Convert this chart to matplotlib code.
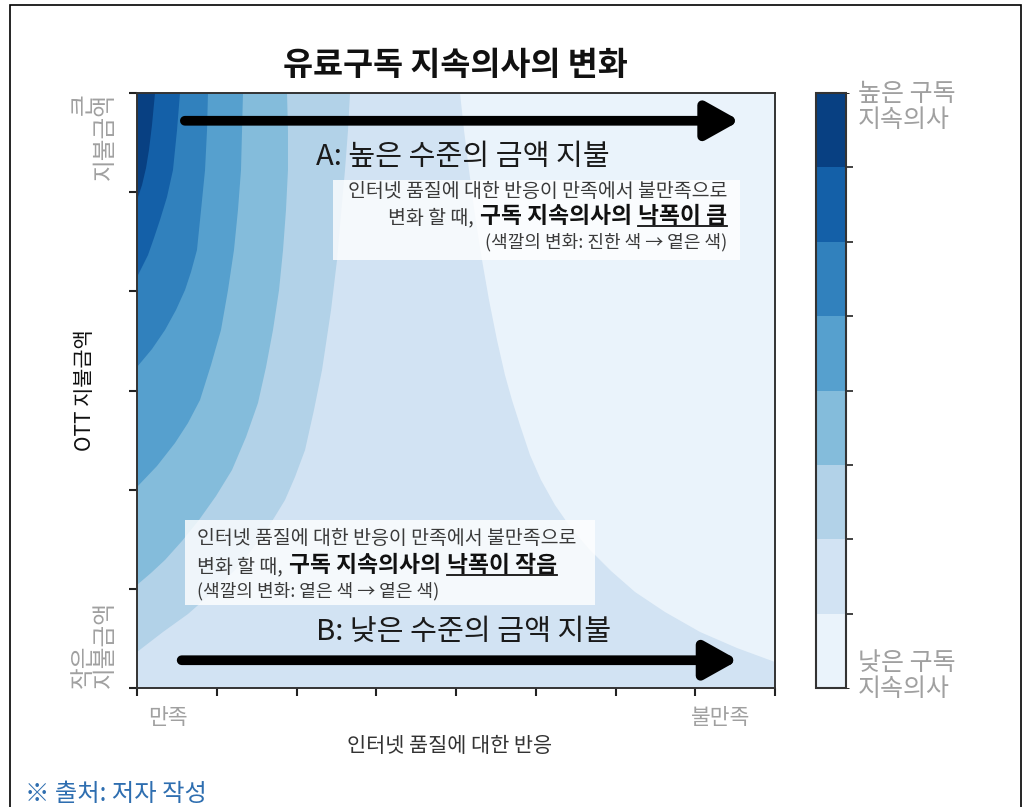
import numpy as np
import matplotlib
matplotlib.use('Agg')
from matplotlib import pyplot as plt
from matplotlib import cm
from matplotlib.colors import ListedColormap, BoundaryNorm
from matplotlib.patches import Rectangle
from matplotlib.lines import Line2D

plt.rcParams['font.family'] = ['Noto Sans CJK KR', 'DejaVu Sans']

# fronteiras entre os níveis, lidas da figura
# eixo x: 0 = 만족 ... 8 = 불만족 ; eixo y: 0 = 작은 지불금액 ... 6 = 큰 지불금액
b1_x = [4.050, 4.100, 4.163, 4.238, 4.326, 4.414, 4.514, 4.614, 4.702, 4.802, 4.928,
        5.066, 5.241, 5.442, 5.680, 5.944, 6.245, 6.621, 7.060, 7.524, 8.0]
b1_y = [6.0, 5.627, 5.223, 4.770, 4.316, 3.912, 3.509, 3.156, 2.904, 2.652, 2.349,
        2.097, 1.845, 1.613, 1.392, 1.180, 0.968, 0.766, 0.565, 0.403, 0.262]
b2_x = [2.671, 2.646, 2.608, 2.558, 2.508, 2.433, 2.320, 2.219, 2.107, 1.981,
        1.856, 1.718, 1.580, 1.292, 0.953, 0.639, 0.326, 0.163, 0.0]
b2_y = [6.0, 5.627, 5.223, 4.770, 4.316, 3.812, 3.207, 2.803, 2.400, 2.128,
        1.896, 1.714, 1.543, 1.240, 0.968, 0.746, 0.565, 0.464, 0.363]
b3_x = [1.881, 1.893, 1.893, 1.868, 1.831, 1.781, 1.705, 1.618, 1.517, 1.367,
        1.191, 0.991, 0.777, 0.564, 0.351, 0.176, 0.0]
b3_y = [6.0, 5.627, 5.223, 4.820, 4.417, 4.013, 3.610, 3.237, 2.874, 2.531,
        2.198, 1.936, 1.694, 1.482, 1.291, 1.160, 1.039]
b4_x = [1.329, 1.317, 1.304, 1.266, 1.216, 1.141, 1.053, 0.928, 0.790, 0.639,
        0.476, 0.251, 0.0]
b4_y = [6.0, 5.627, 5.223, 4.820, 4.417, 4.013, 3.610, 3.257, 2.904, 2.672,
        2.470, 2.239, 2.027]
b5_x = [0.890, 0.878, 0.853, 0.803, 0.752, 0.677, 0.602, 0.489, 0.351, 0.188, 0.0]
b5_y = [6.0, 5.627, 5.223, 4.820, 4.417, 4.195, 4.013, 3.812, 3.610, 3.418, 3.237]
b6_x = [0.539, 0.502, 0.451, 0.376, 0.288, 0.213, 0.138, 0.063, 0.0]
b6_y = [6.0, 5.627, 5.223, 4.951, 4.719, 4.538, 4.366, 4.245, 4.144]
b7_x = [0.226, 0.188, 0.150, 0.113, 0.063, 0.0]
b7_y = [6.0, 5.677, 5.425, 5.243, 5.072, 4.921]

fronteiras = [(b1_x, b1_y), (b2_x, b2_y), (b3_x, b3_y), (b4_x, b4_y),
              (b5_x, b5_y), (b6_x, b6_y), (b7_x, b7_y)]

n_niveis = 8
cores = plt.cm.Blues((np.arange(n_niveis) + 0.5) / n_niveis)

fig = plt.figure(figsize=(10.24, 8.07), dpi=100)
ax = fig.add_axes([137/1024, 1 - 688/807, 638/1024, 595/807])
ax.set_xlim(0, 8)
ax.set_ylim(0, 6)
ax.set_facecolor(cores[0])

for k, (bx, by) in enumerate(fronteiras, start=1):
    if k == 1:
        px, py = bx + [8, 0, 0], by + [0, 0, 6]
    else:
        px, py = bx + [0], by + [6]
    ax.fill(px, py, color=cores[k], lw=0, zorder=1)

ax.set_xticks(range(9))
ax.set_yticks(range(7))
ax.tick_params(labelbottom=False, labelleft=False, length=6, width=1.5,
               color='#222222', direction='out')
for sp in ax.spines.values():
    sp.set_linewidth(1.4)
    sp.set_color('#333333')
    sp.set_zorder(5)

# setas A e B
for (x0, x1, y) in [(0.60, 7.56, 5.72), (0.56, 7.54, 0.28)]:
    ax.annotate('', xy=(x1, y), xytext=(x0, y),
                arrowprops=dict(arrowstyle='-|>,head_length=0.5,head_width=0.28',
                                mutation_scale=40, lw=7, color='black',
                                shrinkA=0, shrinkB=0), zorder=4)

ax.text(4.08, 5.35, 'A: 높은 수준의 금액 지불', ha='center', va='center',
        fontsize=21, color='#1a1a1a', zorder=4)
ax.text(4.09, 0.565, 'B: 낮은 수준의 금액 지불', ha='center', va='center',
        fontsize=21, color='#1a1a1a', zorder=4)

# caixas brancas atrás dos comentários
ax.add_patch(Rectangle((2.46, 4.32), 5.10, 0.80, fc='white', ec='none', alpha=0.8, zorder=3))
ax.add_patch(Rectangle((0.60, 0.84), 5.14, 0.85, fc='white', ec='none', alpha=0.8, zorder=3))

renderer = fig.canvas.get_renderer()


def linha(x, y, partes, ha='left'):
    '''escreve uma linha com pedaços de estilos diferentes, alinhada na base'''
    inv = ax.transData.inverted()
    ordem = partes if ha == 'left' else partes[::-1]
    xd, yd = ax.transData.transform((x, y))
    for texto, tam, peso, cor, sub in ordem:
        xx = inv.transform((xd, yd))[0]
        t = ax.text(xx, y, texto, ha=ha, va='baseline', fontsize=tam,
                    fontweight=peso, color=cor, zorder=4)
        bb = t.get_window_extent(renderer)
        if sub:
            f = fig.transFigure.inverted()
            p0 = f.transform((bb.x0, yd - 3))
            p1 = f.transform((bb.x1, yd - 3))
            fig.add_artist(Line2D([p0[0], p1[0]], [p0[1], p1[1]], lw=1.3,
                                  color='#111111', zorder=6))
        if ha == 'left':
            xd = bb.x1 + 6
        else:
            xd = bb.x0 - 6


cinza = '#3a3a3a'
preto = '#111111'
linha(7.40, 4.95, [('인터넷 품질에 대한 반응이 만족에서 불만족으로', 14, 'normal', cinza, False)], ha='right')
linha(7.40, 4.69, [('변화 할 때,', 14, 'normal', cinza, False),
                   ('구독 지속의사의', 16.4, 'bold', preto, False),
                   ('낙폭이 큼', 16.4, 'bold', preto, True)], ha='right')
linha(7.40, 4.44, [('(색깔의 변화: 진한 색 → 옅은 색)', 13, 'normal', cinza, False)], ha='right')

linha(0.75, 1.45, [('인터넷 품질에 대한 반응이 만족에서 불만족으로', 14, 'normal', cinza, False)])
linha(0.75, 1.17, [('변화 할 때,', 14, 'normal', cinza, False),
                   ('구독 지속의사의', 16.4, 'bold', preto, False),
                   ('낙폭이 작음', 16.4, 'bold', preto, True)])
linha(0.75, 0.92, [('(색깔의 변화: 옅은 색 → 옅은 색)', 13, 'normal', cinza, False)])

# rótulos dos eixos
claro = '#a0a0a0'
ax.text(-0.031, 1.0, '큰\n지불금액', transform=ax.transAxes, rotation=90,
        ha='right', va='top', multialignment='right', fontsize=17,
        color=claro, linespacing=0.95)
ax.text(-0.031, 0.0, '작은\n지불금액', transform=ax.transAxes, rotation=90,
        ha='right', va='bottom', multialignment='left', fontsize=17,
        color=claro, linespacing=0.95)
ax.text(-0.0815, 0.5, 'OTT 지불금액', transform=ax.transAxes, rotation=90,
        ha='center', va='center', fontsize=15, color='#111111')
ax.text(0.017, -0.05, '만족', transform=ax.transAxes, ha='left', va='center',
        fontsize=15.5, color=claro)
ax.text(0.961, -0.05, '불만족', transform=ax.transAxes, ha='right', va='center',
        fontsize=15.5, color=claro)
ax.text(0.4906, -0.098, '인터넷 품질에 대한 반응', transform=ax.transAxes,
        ha='center', va='center', fontsize=15, color='#333333')

# barra de cores
cax = fig.add_axes([816/1024, 1 - 688/807, 30/1024, 595/807])
mapa = ListedColormap(cores)
norma = BoundaryNorm(np.arange(n_niveis + 1), n_niveis)
cb = fig.colorbar(cm.ScalarMappable(norm=norma, cmap=mapa), cax=cax,
                  ticks=np.arange(1, n_niveis))
cb.ax.set_yticklabels([])
cb.ax.tick_params(length=5, width=1.3, color='#333333')
cb.outline.set_linewidth(1.5)
cb.outline.set_edgecolor('#333333')

fig.text(858/1024, 1 - 81/807, '높은 구독\n지속의사', ha='left', va='top',
         fontsize=18, color=claro, linespacing=1.0)
fig.text(858/1024, 1 - 702/807, '낮은 구독\n지속의사', ha='left', va='bottom',
         fontsize=18, color=claro, linespacing=1.0)

fig.text(455/1024, 1 - 65/807, '유료구독 지속의사의 변화', ha='center', va='center',
         fontsize=23.5, fontweight='bold', color='#111111')
fig.text(25/1024, 1 - 794/807, '※ 출처: 저자 작성', ha='left', va='center',
         fontsize=17.5, color='#2e6eb0')

# moldura em volta da figura
fig.add_artist(Rectangle((10/1024, -0.05), 1011/1024, (802/807) + 0.05,
                         transform=fig.transFigure, fill=False, ec='black', lw=1.2))

fig.savefig('out.png', dpi=100)
